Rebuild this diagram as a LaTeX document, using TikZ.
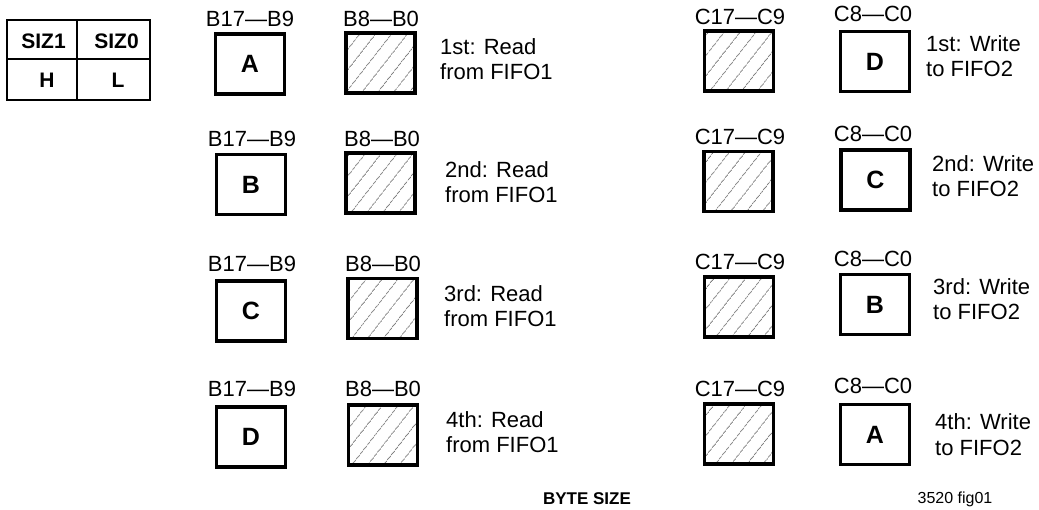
\documentclass[tikz,border=0pt]{standalone}
\usepackage{fontspec}
\setmainfont{Liberation Sans}
\usetikzlibrary{patterns.meta}
\begin{document}
\begin{tikzpicture}[x=1pt,y=-1pt,
  reg/.style={font=\fontsize{22}{25}\selectfont, inner sep=0pt},
  lbl/.style={reg, anchor=base},
  desc/.style={reg, anchor=base west, align=left},
  databox/.style={draw, line width=3.2pt, minimum width=69pt, minimum height=60pt, inner sep=0pt, font=\fontsize{25}{30}\selectfont\bfseries},
  hatchbox/.style={databox, pattern={Lines[angle=52,distance=13pt,line width=0.8pt]}, pattern color=black!55},
  celltext/.style={inner sep=0pt, font=\fontsize{21}{24}\selectfont\bfseries},
  grid/.style={line width=2pt},
]
\useasboundingbox (0,0) rectangle (1039,510);

% size table
\draw[grid] (7,20) rectangle (150,100);
\draw[grid] (7,59) -- (150,59);
\draw[grid] (77,20) -- (77,100);
\node[celltext] (siz1) at (43.5,41.5) {SIZ1};
\node[celltext] (siz0) at (116.5,41.5) {SIZ0};
\node[celltext] (h) at (47,80) {H};
\node[celltext] (l) at (118,80) {L};

% left column (read from FIFO1)
\node[databox] (bA) at (250,64) {A};
\node[hatchbox] (bh1) at (380.5,63) {};
\node[lbl] (lb1) at (250,27) {B17—B9};
\node[lbl] (lc1) at (381,27) {B8—B0};
\node[desc] (d1) at (440,80) {1st: Read\\from FIFO1};

\node[databox] (bB) at (251,184.5) {B};
\node[hatchbox] (bh2) at (380.5,183) {};
\node[lbl] (lb2) at (252,147) {B17—B9};
\node[lbl] (lc2) at (382,147) {B8—B0};
\node[desc] (d2) at (445,203) {2nd: Read\\from FIFO1};

\node[databox] (bC) at (251,311) {C};
\node[hatchbox] (bh3) at (382.5,308.5) {};
\node[lbl] (lb3) at (252,272) {B17—B9};
\node[lbl] (lc3) at (383,272) {B8—B0};
\node[desc] (d3) at (444,327) {3rd: Read\\from FIFO1};

\node[databox] (bD) at (251,437) {D};
\node[hatchbox] (bh4) at (383,435) {};
\node[lbl] (lb4) at (252,397) {B17—B9};
\node[lbl] (lc4) at (383,397) {B8—B0};
\node[desc] (d4) at (446,453) {4th: Read\\from FIFO1};

% right column (write to FIFO2)
\node[hatchbox] (ch1) at (739,61) {};
\node[databox] (cD) at (875,61.5) {D};
\node[lbl] (lr1) at (740,25) {C17—C9};
\node[lbl] (ls1) at (873,22) {C8—C0};
\node[desc] (e1) at (926,77) {1st: Write\\to FIFO2};

\node[hatchbox] (ch2) at (738.5,181.5) {};
\node[databox] (cC) at (875.5,180) {C};
\node[lbl] (lr2) at (740,145) {C17—C9};
\node[lbl] (ls2) at (873,142) {C8—C0};
\node[desc] (e2) at (932,197) {2nd: Write\\to FIFO2};

\node[hatchbox] (ch3) at (739,307) {};
\node[databox] (cB) at (875,304.5) {B};
\node[lbl] (lr3) at (740,270) {C17—C9};
\node[lbl] (ls3) at (873,267) {C8—C0};
\node[desc] (e3) at (933,320) {3rd: Write\\to FIFO2};

\node[hatchbox] (ch4) at (739,434) {};
\node[databox] (cA) at (875,434.5) {A};
\node[lbl] (lr4) at (740,397) {C17—C9};
\node[lbl] (ls4) at (873,394) {C8—C0};
\node[desc] (e4) at (935,455) {4th: Write\\to FIFO2};

% captions
\node[font=\fontsize{17}{20}\selectfont\bfseries, anchor=base, inner sep=0pt] (title) at (587,504) {BYTE SIZE};
\node[font=\fontsize{16}{19}\selectfont, anchor=base, inner sep=0pt] (fig) at (955,503) {3520 fig01};
\end{tikzpicture}
\end{document}
